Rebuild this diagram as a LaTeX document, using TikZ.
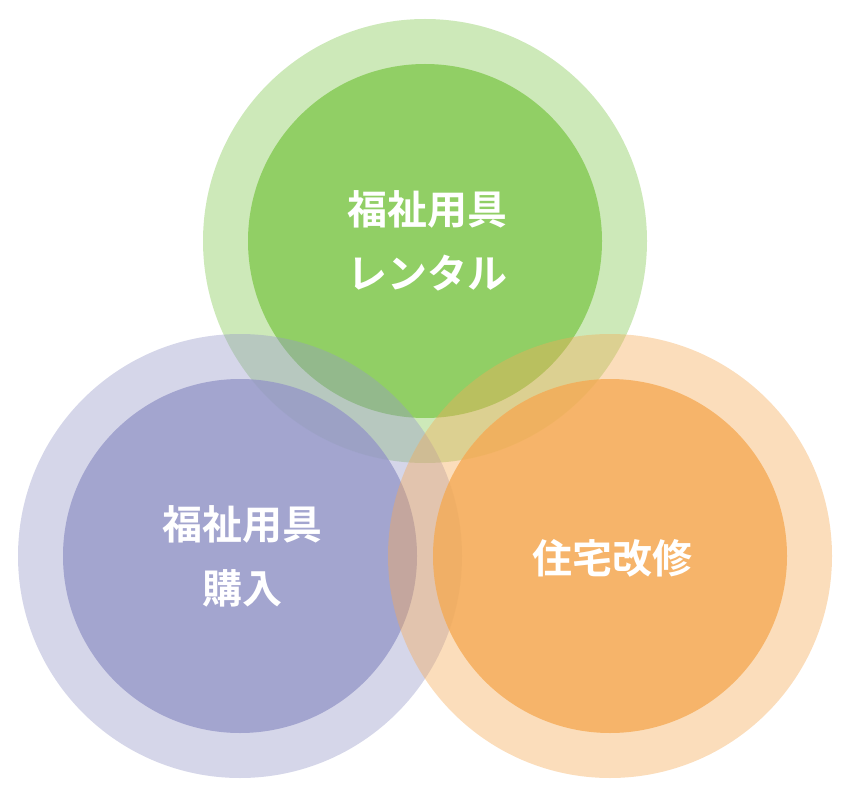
\documentclass[tikz,border=0pt]{standalone}
\usepackage{fontspec}
\newfontfamily\cjk{Noto Sans CJK JP Bold}
\definecolor{gbase}{RGB}{130,200,80}
\definecolor{pbase}{RGB}{150,152,200}
\definecolor{obase}{RGB}{245,170,85}
\tikzset{outer/.style={fill=#1,fill opacity=0.4,draw=none},
inner/.style={fill=#1,fill opacity=0.8,draw=none},
lbl/.style={text=white,font=\cjk\fontsize{40}{64}\selectfont,align=center}}
\begin{document}
\begin{tikzpicture}[x=1pt,y=-1pt]
\useasboundingbox (0,0) rectangle (850,799);
\fill[outer=gbase] (425,241) circle (222);
\fill[inner=gbase] (425,241) circle (177);
\fill[outer=pbase] (240,556) circle (222);
\fill[inner=pbase] (240,556) circle (177);
\fill[outer=obase] (610,556) circle (222);
\fill[inner=obase] (610,556) circle (177);
\node[lbl] (g) at (427,241) {福祉用具\\レンタル};
\node[lbl] (p) at (242,556) {福祉用具\\購入};
\node[lbl] (o) at (612,558) {住宅改修};
\end{tikzpicture}
\end{document}
